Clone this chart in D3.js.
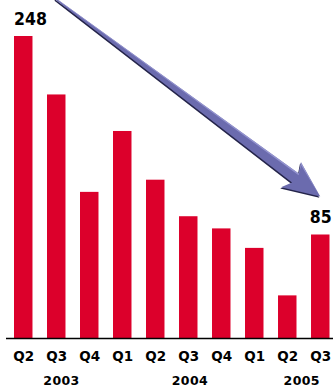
<!DOCTYPE html>
<html>
<head>
<meta charset="utf-8">
<script src="https://cdn.jsdelivr.net/npm/d3@7"></script>
<style>
  html, body { margin: 0; padding: 0; background: #fff; }
  svg { display: block; }
</style>
</head>
<body>
<svg id="chart" width="333" height="387"></svg>
<script>
// Quarterly figures, Q2 2003 through Q3 2005
const quarters = ["Q2", "Q3", "Q4", "Q1", "Q2", "Q3", "Q4", "Q1", "Q2", "Q3"];
const values   = [248, 200, 120, 170, 130, 100, 90, 74, 35, 85];
const years    = ["2003", "2004", "2005"];
// bars that carry a value label
const labelled = [0, 9];

const svg = d3.select("#chart");
const W = 333, H = 387;
const baseY = 338;

const x = d3.scaleBand()
  .domain(d3.range(quarters.length))
  .range([14, 329.5])
  .paddingInner(0.44)
  .paddingOuter(0);

const y = d3.scaleLinear()
  .domain([0, 248])
  .range([baseY, 36]);

const bw = x.bandwidth();
const cx = i => x(i) + bw / 2;

// bars
svg.append("g")
  .selectAll("rect")
  .data(values)
  .join("rect")
  .attr("x", (d, i) => x(i))
  .attr("y", d => y(d))
  .attr("width", bw)
  .attr("height", d => baseY - y(d))
  .attr("fill", "#dc002b");

// baseline
svg.append("line")
  .attr("x1", 6).attr("x2", W)
  .attr("y1", baseY + 0.5).attr("y2", baseY + 0.5)
  .attr("stroke", "#000")
  .attr("stroke-width", 1.6);

// quarter labels
svg.append("g")
  .selectAll("text")
  .data(quarters)
  .join("text")
  .attr("x", (d, i) => cx(i) + 0.5)
  .attr("y", 361)
  .attr("text-anchor", "middle")
  .attr("font-family", "'DejaVu Sans', sans-serif")
  .attr("font-weight", "bold")
  .attr("font-size", 13.5)
  .attr("fill", "#000")
  .text(d => d);

// year labels, positioned along the band scale
const yearAt = [1.16, 5.05, 8.44];
svg.append("g")
  .selectAll("text")
  .data(years)
  .join("text")
  .attr("x", (d, i) => x(0) + bw / 2 + yearAt[i] * x.step())
  .attr("y", 385)
  .attr("text-anchor", "middle")
  .attr("font-family", "'DejaVu Sans', sans-serif")
  .attr("font-weight", "bold")
  .attr("font-size", 12.5)
  .attr("letter-spacing", 0.4)
  .attr("fill", "#000")
  .text(d => d);

// value labels
svg.append("g")
  .selectAll("text")
  .data(labelled)
  .join("text")
  .attr("x", (i, k) => k === 0 ? x(i) : cx(i) + 0.5)
  .attr("y", i => y(values[i]) - 11)
  .attr("text-anchor", (i, k) => k === 0 ? "start" : "middle")
  .attr("font-family", "'DejaVu Sans Condensed', 'DejaVu Sans', sans-serif")
  .attr("font-weight", "bold")
  .attr("font-size", 17.5)
  .attr("fill", "#000")
  .text(i => values[i]);

// downward trend arrow, from above the second bar to above the last bar
const first = labelled[0], last = labelled[1];
const S = [cx(first + 1) - 0.5, -1];
const T = [cx(last), y(values[last]) - 38];
const dx = T[0] - S[0], dy = T[1] - S[1];
const L = Math.hypot(dx, dy);
const u = [dx / L, dy / L];
const n = [-u[1], u[0]]; // points down-left of the direction of travel

const pt = (s, t) => [S[0] + u[0] * s + n[0] * t, S[1] + u[1] * s + n[1] * t];
const headLen = 36, neck = L - 31;
const w0 = 0.7, w1 = 5.6, wh = 16;

function arrowShape(off) {
  return [
    pt(0, -w0 + off), pt(neck, -w1 + off), pt(L - headLen, -wh + off),
    pt(L, 0 + off),
    pt(L - headLen - 1, wh + off), pt(neck, w1 + off), pt(0, w0 + off)
  ];
}
const line = d3.line();

// dark underside
svg.append("path")
  .attr("d", line(arrowShape(1.5)) + "Z")
  .attr("fill", "#24244a");
// body
svg.append("path")
  .attr("d", line(arrowShape(0)) + "Z")
  .attr("fill", "#6b6bae");
// thin light rim along the upper edge
const hi = [
  pt(0, -w0), pt(neck, -w1), pt(L - headLen, -wh), pt(L - 3, -1),
  pt(L - headLen + 2, -wh + 2.5), pt(neck + 1, -w1 + 1.6), pt(0, -w0 * 0.2)
];
svg.append("path")
  .attr("d", line(hi) + "Z")
  .attr("fill", "#9a9ad4")
  .attr("opacity", 0.85);
</script>
</body>
</html>
